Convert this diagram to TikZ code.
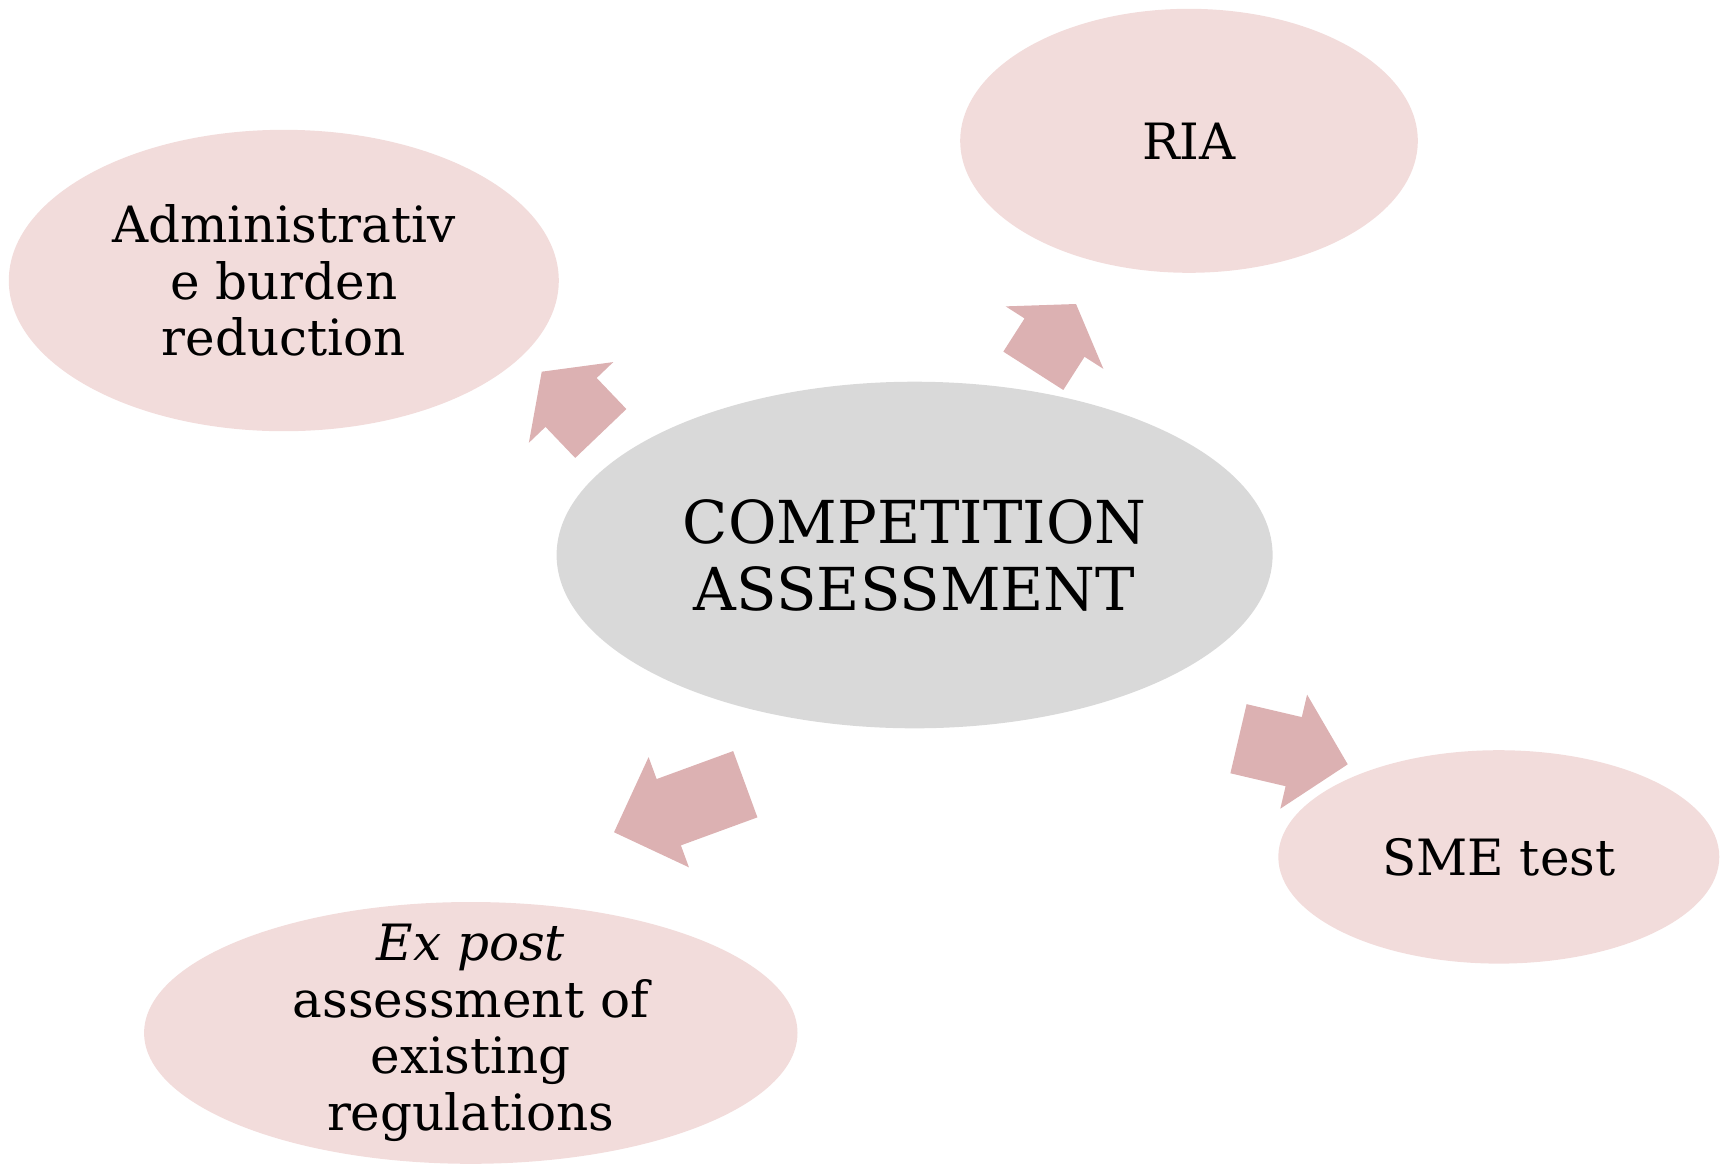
\documentclass[tikz,border=0pt]{standalone}
\usepackage{fontspec}
\setmainfont{DejaVu Serif}
\usetikzlibrary{shapes.geometric}

\definecolor{bubblefill}{RGB}{242,220,219}
\definecolor{hubfill}{RGB}{217,217,217}
\definecolor{arrowfill}{RGB}{220,177,178}

% Block arrow: tail midpoint (x,y), direction, total length,
% half shaft width, half head width, head length
\newcommand\blockarrow[7]{%
  \begin{scope}[shift={(#1,#2)}, rotate=#3]
    \fill[arrowfill] (0,-#5) -- ({#4-#7},-#5) -- ({#4-#7},-#6) -- (#4,0)
      -- ({#4-#7},#6) -- ({#4-#7},#5) -- (0,#5) -- cycle;
  \end{scope}}

\tikzset{
  bubble/.style={ellipse, fill=bubblefill, inner sep=0pt},
  hubnode/.style={ellipse, fill=hubfill, inner sep=0pt},
  lbl/.style={align=center, inner sep=0pt, font=\fontsize{25}{28.4}\selectfont},
  hublbl/.style={align=center, inner sep=0pt, font=\fontsize{29.6}{33.5}\selectfont},
}

\begin{document}
\begin{tikzpicture}[x=0.5pt, y=-0.5pt]
  \useasboundingbox (0,0) rectangle (1725,1169);

  % ellipses
  \node[bubble, minimum width=275pt, minimum height=150.7pt] (adm) at (283.8,280.5) {};
  \node[bubble, minimum width=228.8pt, minimum height=132pt] (ria) at (1189,140.8) {};
  \node[hubnode, minimum width=358pt, minimum height=173.3pt] (hub) at (914.6,555) {};
  \node[bubble, minimum width=220.5pt, minimum height=106.7pt] (sme) at (1498.8,856.9) {};
  \node[bubble, minimum width=326.7pt, minimum height=130.9pt] (expost) at (470.8,1032.9) {};

  % labels
  \node[lbl] (adm-t) at (adm) {Administrativ\\e burden\\reduction};
  \node[lbl] (ria-t) at (ria) {RIA};
  \node[hublbl] (hub-t) at (hub) {COMPETITION\\ASSESSMENT};
  \node[lbl] (sme-t) at (sme) {SME test};
  \node[lbl] (expost-t) at (expost) {\textit{Ex post}\\assessment of\\existing\\regulations};

  % arrows pointing outwards from the hub
  \blockarrow{600.8}{433.5}{133.7}{85.5}{35.4}{58.4}{42.5}
  \blockarrow{1033.3}{370.8}{57.4}{79.3}{35.6}{58}{39.9}
  \blockarrow{1238.5}{738.7}{-13.2}{112.2}{35.5}{58.6}{55.5}
  \blockarrow{745.3}{784.2}{-159.9}{139.8}{35.3}{58.7}{58.3}
\end{tikzpicture}
\end{document}
